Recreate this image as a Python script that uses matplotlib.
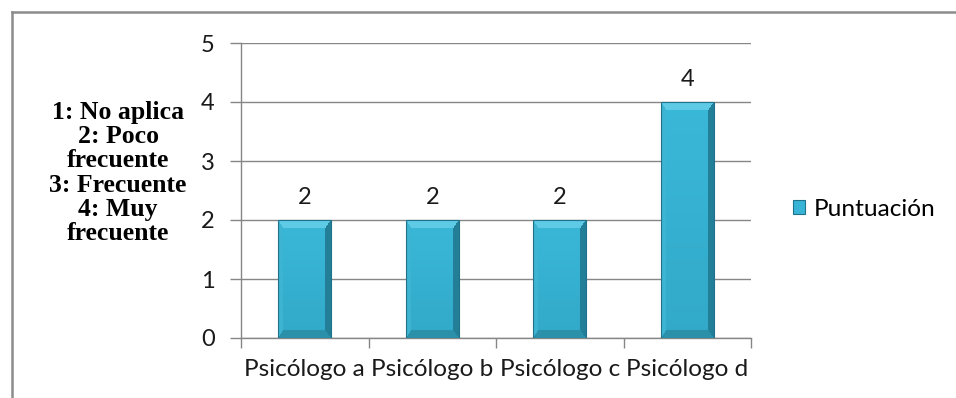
import numpy as np
import matplotlib
matplotlib.use("Agg")
import matplotlib.pyplot as plt
from matplotlib.patches import Rectangle, Patch
from matplotlib.colors import to_rgb

categories = ["Psicólogo a", "Psicólogo b", "Psicólogo c", "Psicólogo d"]
values = [2, 2, 2, 4]
series_name = "Puntuación"
scale_text = "1: No aplica\n2: Poco\nfrecuente\n3: Frecuente\n4: Muy\nfrecuente"
y_ticks = [0, 1, 2, 3, 4, 5]

W, H, DPI = 956, 398, 100
fig = plt.figure(figsize=(W / DPI, H / DPI), dpi=DPI)
fig.patch.set_facecolor("white")

# outer chart-area border (top and left edges)
border_col = "#8c8c8c"
fig.add_artist(plt.Line2D([11.5 / W, 11.5 / W], [0, 1 - 11.5 / H],
                          transform=fig.transFigure, color=border_col, lw=1.8))
fig.add_artist(plt.Line2D([11.5 / W, 1], [1 - 11.5 / H, 1 - 11.5 / H],
                          transform=fig.transFigure, color=border_col, lw=1.8))

ax_l, ax_r, ax_t, ax_b = 241, 751, 43, 338
ax = fig.add_axes([ax_l / W, 1 - ax_b / H, (ax_r - ax_l) / W, (ax_b - ax_t) / H])

grid_col = "#868686"
label_font = "Lato"
fs = 17
fs_cat = 17.6
text_col = "#1a1a1a"

x = np.arange(len(categories))
bar_w = 0.415
bars = ax.bar(x, values, width=bar_w, color="#38b5d6", zorder=3)

ax.set_xlim(-0.5, len(categories) - 0.5)
ax.set_ylim(0, 5)
ax.set_yticks(y_ticks)
ax.set_yticklabels([str(t) for t in y_ticks], fontsize=fs, family=label_font, color=text_col)
ax.set_xticks(x)
ax.set_xticklabels(categories, fontsize=fs_cat, family=label_font, color=text_col)
ax.set_xticks(np.arange(len(categories) + 1) - 0.5, minor=True)
ax.tick_params(axis="x", which="major", length=0, pad=15)
ax.tick_params(axis="x", which="minor", length=7, width=1, color=grid_col)
ax.tick_params(axis="y", length=8, width=1, color=grid_col, pad=11)

for sp in ["top", "right"]:
    ax.spines[sp].set_visible(False)
for sp in ["left", "bottom"]:
    ax.spines[sp].set_color(grid_col)
    ax.spines[sp].set_linewidth(1)
ax.yaxis.grid(True, color=grid_col, lw=1, zorder=0)
ax.set_axisbelow(True)


def bevel_image(wpx, hpx, d=8):
    """Cyan bar face with bevelled edges."""
    img = np.zeros((hpx, wpx, 3))
    center = np.array(to_rgb("#3ab8d8"))
    center_dark = np.array(to_rgb("#32a9c9"))
    top = np.array(to_rgb("#5ecbe6"))
    bottom = np.array(to_rgb("#2b90ab"))
    left = np.array(to_rgb("#3cb4d3"))
    right = np.array(to_rgb("#237f97"))
    for i in range(hpx):
        for j in range(wpx):
            dt, db, dl, dr = i, hpx - 1 - i, j, wpx - 1 - j
            m = min(dt, db, dl * 1.6, dr * 1.4)
            if m >= d:
                f = i / max(hpx - 1, 1)
                img[i, j] = center * (1 - f) + center_dark * f
            elif m == dt:
                img[i, j] = top
            elif m == db:
                img[i, j] = bottom
            elif m == dr * 1.4:
                img[i, j] = right
            else:
                img[i, j] = left
    return img


fig.canvas.draw()
for rect in bars:
    x0, y0 = rect.get_x(), rect.get_y()
    bw, bh = rect.get_width(), rect.get_height()
    p0 = ax.transData.transform((x0, y0))
    p1 = ax.transData.transform((x0 + bw, y0 + bh))
    wpx = max(int(round(p1[0] - p0[0])), 2)
    hpx = max(int(round(p1[1] - p0[1])), 2)
    im = ax.imshow(bevel_image(wpx, hpx), extent=(x0, x0 + bw, y0, y0 + bh),
                   aspect="auto", zorder=4, interpolation="bilinear")
    im.set_clip_path(rect)
    # thin dark outline
    ax.add_patch(Rectangle((x0, y0), bw, bh, fill=False, edgecolor="#1f7289",
                           lw=0.8, zorder=5))

ax.set_xlim(-0.5, len(categories) - 0.5)
ax.set_ylim(0, 5)

for xi, v in zip(x, values):
    ax.annotate(str(v), (xi, v), xytext=(0, 9), textcoords="offset points",
                ha="center", va="bottom", fontsize=fs, family=label_font,
                color=text_col, zorder=6)

leg = fig.legend(handles=[Patch(facecolor="#38b5d6", edgecolor="#1f7289", lw=0.8)],
                 labels=[series_name], loc="center left",
                 bbox_to_anchor=(771 / W, 1 - 209 / H), frameon=False,
                 prop={"family": label_font, "size": fs_cat},
                 handlelength=0.5, handleheight=0.5, handletextpad=0.35)

fig.text(118 / W, 1 - 173 / H, scale_text, ha="center", va="center",
         family="Liberation Serif", fontweight="bold", fontsize=18.5,
         linespacing=1.06, color="#000000")

fig.savefig("out.png", dpi=DPI, facecolor="white")
